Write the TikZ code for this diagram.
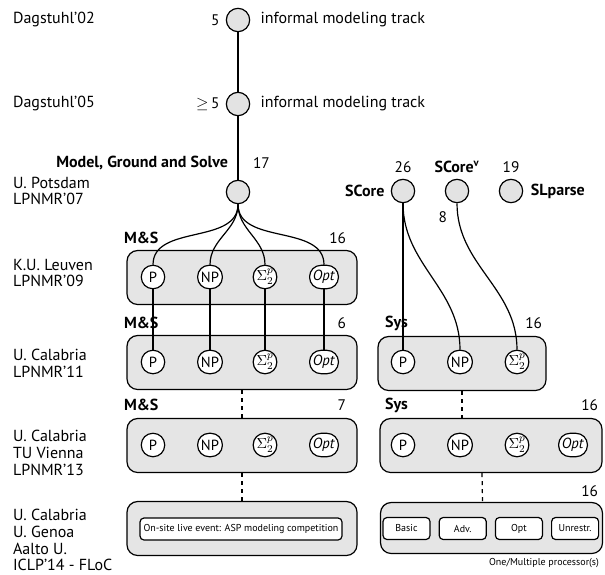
\documentclass[tikz,border=0pt]{standalone}
\usepackage{amsmath,amssymb}
\usepackage{fontspec}
\setmainfont{PT Sans}
\usepackage{tikz}
\usetikzlibrary{positioning}

\begin{document}
\begin{tikzpicture}[x=0.75pt,y=-0.75pt,line width=0.9pt,
    venue/.style={anchor=west,align=left,font=\fontsize{12}{12.6}\selectfont},
    num/.style={font=\fontsize{11.5}{13}\selectfont},
    lbl/.style={font=\bfseries\fontsize{12}{13}\selectfont},
    track/.style={circle,draw,fill=gray!22,minimum size=17.5pt,inner sep=0pt},
    panel/.style={draw,fill=gray!20,rounded corners=8pt,minimum height=40.5pt},
    cls/.style={draw,fill=white,rounded corners=8.5pt,minimum height=17.5pt,minimum width=17.5pt,
      inner xsep=2.5pt,inner ysep=0pt,font=\fontsize{11}{12}\selectfont},
    cat/.style={draw,fill=white,rounded corners=3pt,minimum height=16.5pt,inner sep=0pt,
      font=\fontsize{7.5}{9}\selectfont}]
    \useasboundingbox (0,0) rectangle (605,574);

    % venues
    \node[venue] (v02) at (8,20) {Dagstuhl’02};
    \node[venue] (v05) at (8,104) {Dagstuhl’05};
    \node[venue] (v07) at (8,191) {U. Potsdam\\LPNMR’07};
    \node[venue] (v09) at (8,273) {K.U. Leuven\\LPNMR’09};
    \node[venue] (v11) at (8,363) {U. Calabria\\LPNMR’11};
    \node[venue] (v13) at (8,453) {U. Calabria\\TU Vienna\\LPNMR’13};
    \node[venue] (v14) at (8,540) {U. Calabria\\U. Genoa\\Aalto U.\\ICLP’14 - FLoC};

    % early tracks
    \node[track] (d02) at (238,20) {};
    \node[track] (d05) at (238,104) {};
    \node[track] (mgs) at (238,192) {};
    \node[num, left=1pt of d02] (n02) {5};
    \node[num, left=1pt of d05] (n05) {$\geq$\,5};
    \node[venue, right=4pt of d02] (t02) {informal modeling track};
    \node[venue, right=4pt of d05] (t05) {informal modeling track};
    \node[lbl, anchor=east] (lmgs) at (233,163) {Model, Ground and Solve};
    \node[num, anchor=west] (nmgs) at (248,163) {17};
    \draw (d02) -- (d05);
    \draw (d05) -- (mgs);

    % system tracks
    \node[track] (score) at (403,191) {};
    \node[track] (scorev) at (457,191) {};
    \node[track] (slparse) at (511,191) {};
    \node[lbl, left=1pt of score] (lscore) {SCore};
    \node[num, above=1pt of score] (nscore) {26};
    \node[lbl, above=1pt of scorev] (lscorev) {SCore\textsuperscript{v}};
    \node[num, anchor=east] (nscorev) at (452,217) {8};
    \node[num, above=1pt of slparse] (nslparse) {19};
    \node[lbl, right=2pt of slparse] (lslparse) {SLparse};

    % panels
    \node[panel, minimum width=172.5pt] (ms09) at (242,277.5) {};
    \node[panel, minimum width=172.5pt] (ms11) at (242,362.5) {};
    \node[panel, minimum width=172.5pt] (ms13) at (242,445.5) {};
    \node[panel, minimum width=172.5pt] (ms14) at (242,528.5) {};
    \node[panel, minimum width=126pt] (sys11) at (462,363.5) {};
    \node[panel, minimum width=166.5pt] (sys13) at (491,445.5) {};
    \node[panel, minimum width=166.5pt, minimum height=38.25pt] (sys14) at (491.5,528) {};

    \node[lbl, anchor=west] (lms09) at (119,238) {M\&S};
    \node[num, anchor=east] (nms09) at (351,238) {16};
    \node[lbl, anchor=west] (lms11) at (119,323) {M\&S};
    \node[num, anchor=east] (nms11) at (351,323) {6};
    \node[lbl, anchor=west] (lms13) at (119,405) {M\&S};
    \node[num, anchor=east] (nms13) at (351,405) {7};
    \node[lbl, anchor=west] (lsys11) at (380,323) {Sys};
    \node[num, anchor=east] (nsys11) at (547,323) {16};
    \node[lbl, anchor=west] (lsys13) at (380,405) {Sys};
    \node[num, anchor=east] (nsys13) at (603,405) {16};
    \node[num, anchor=east] (nsys14) at (603,491) {16};

    % dashed links between editions
    \draw[dashed] (ms11.south) -- (ms13.north);
    \draw[dashed] (ms13.south) -- (ms14.north);
    \draw[dashed] (sys11.south) -- (sys11.south |- sys13.north);
    \draw[dashed] ([xshift=-6.75pt]sys13.south) -- ([xshift=-6.75pt]sys14.north);

    % complexity classes
    \node[cls] (p09) at (153,277) {P};
    \node[cls] (np09) at (210,277) {NP};
    \node[cls] (sig09) at (265,277) {$\Sigma_2^p$};
    \node[cls] (opt09) at (324,277) {\textit{Opt}};
    \node[cls] (p11) at (153,362) {P};
    \node[cls] (np11) at (210,362) {NP};
    \node[cls] (sig11) at (265,362) {$\Sigma_2^p$};
    \node[cls] (opt11) at (324,362) {\textit{Opt}};
    \node[cls] (p13) at (153,445) {P};
    \node[cls] (np13) at (210,445) {NP};
    \node[cls] (sig13) at (265,445) {$\Sigma_2^p$};
    \node[cls] (opt13) at (324,445) {\textit{Opt}};
    \node[cls] (sp11) at (403,362) {P};
    \node[cls] (snp11) at (460,362) {NP};
    \node[cls] (ssig11) at (517,362) {$\Sigma_2^p$};
    \node[cls] (sp13) at (403,445) {P};
    \node[cls] (snp13) at (460,445) {NP};
    \node[cls] (ssig13) at (517,445) {$\Sigma_2^p$};
    \node[cls] (sopt13) at (573,445) {\textit{Opt}};

    \foreach \c in {p,np,sig,opt} {
      \draw (mgs.south) to[out=-90,in=90] (\c09.north);
      \draw (\c09.south) -- (\c11.north);
    }
    \draw (score.south) -- (sp11.north);
    \draw (score.south) to[out=-90,in=90] (snp11.north);
    \draw (scorev.south) to[out=-90,in=90] (ssig11.north);

    % live event and categories
    \node[cat, minimum width=151.5pt] (live) at (241,529) {On-site live event: ASP modeling competition};
    \node[cat, minimum width=35.25pt] (basic) at (406.5,528.5) {Basic};
    \node[cat, minimum width=35.25pt, right=6pt of basic] (adv) {Adv.};
    \node[cat, minimum width=35.25pt, right=6pt of adv] (opt) {Opt};
    \node[cat, minimum width=35.25pt, right=6pt of opt] (unr) {Unrestr.};
    \node[anchor=east, font=\fontsize{7.5}{9}\selectfont] (proc) at (604,563) {One/Multiple processor(s)};
\end{tikzpicture}
\end{document}
